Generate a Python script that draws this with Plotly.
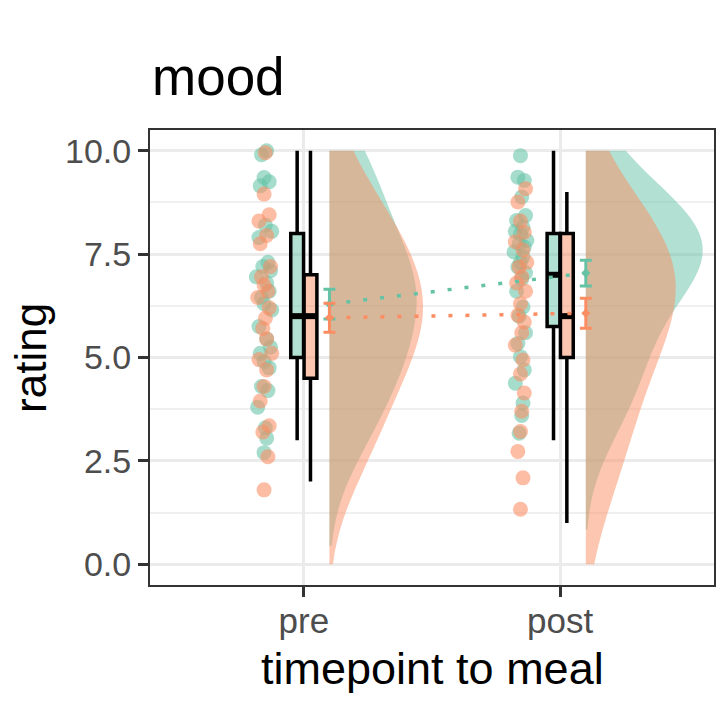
import numpy as np
import plotly.graph_objects as go

# ---------------- data ----------------
timepoints = ["pre", "post"]
tick_vals_y = [0, 2.5, 5, 7.5, 10]
tick_text_y = ["0.0", "2.5", "5.0", "7.5", "10.0"]

pre_teal = [10.0, 9.9, 9.35, 9.25, 9.15, 8.2, 8.05, 7.9, 7.3, 7.2, 7.1, 6.95, 6.8, 6.6,
            6.45, 6.3, 6.15, 5.75, 5.45, 5.25, 5.1, 4.9, 4.75, 4.3, 4.2, 3.8, 3.3, 3.05, 2.7]
pre_teal_jit = [0.01, -0.01, 0.0, 0.02, -0.015, 0.005, 0.03, -0.02, 0.015, -0.005, 0.025,
                -0.03, 0.01, 0.02, -0.01, 0.0, 0.03, -0.02, 0.01, 0.025, -0.015, 0.0, 0.02,
                -0.01, 0.015, -0.025, 0.005, 0.01, 0.0]
pre_salmon = [9.95, 8.95, 8.45, 8.3, 7.95, 7.75, 7.2, 6.95, 6.75, 6.6, 6.45, 6.2, 5.95,
              5.7, 5.45, 5.1, 4.95, 4.7, 4.3, 3.95, 3.35, 3.2, 2.6, 1.8]
pre_salmon_jit = [0.005, 0.0, 0.02, -0.02, 0.01, -0.015, 0.025, -0.01, 0.0, 0.015,
                  -0.025, 0.02, 0.005, -0.005, 0.01, 0.03, -0.02, 0.01, 0.0, -0.015, 0.02,
                  -0.005, 0.015, 0.0]
post_teal = [9.88, 9.36, 9.28, 8.88, 8.43, 8.31, 8.15, 8.05, 7.99, 7.83, 7.75, 7.67, 7.55,
             7.43, 7.3, 7.19, 7.05, 6.9, 6.6, 6.22, 6.0, 5.6, 5.34, 5.02, 4.7, 4.38,
             3.90, 3.6, 3.17]
post_teal_jit = [0.0, -0.01, 0.015, 0.005, 0.02, -0.015, 0.01, -0.02, 0.0, 0.025, -0.005,
                 0.015, -0.025, 0.01, 0.0, -0.01, 0.02, 0.005, -0.015, 0.01, -0.005, 0.02,
                 -0.01, 0.0, 0.015, -0.02, 0.01, 0.005, -0.005]
post_salmon = [9.08, 8.76, 8.3, 8.03, 7.8, 7.6, 7.3, 7.19, 6.95, 6.8, 6.6, 6.3, 6.02, 5.86,
               5.6, 5.30, 4.94, 4.6, 4.14, 3.7, 3.21, 2.73, 2.09, 1.33]
post_salmon_jit = [0.02, -0.01, 0.0, 0.015, -0.02, 0.01, 0.025, -0.005, 0.005, -0.015, 0.02,
                   0.0, -0.01, 0.015, 0.005, -0.02, 0.01, 0.0, 0.015, 0.005, 0.0, -0.01,
                   0.01, 0.0]

# boxplot statistics [pre, post]
teal_q1 = [5.0, 5.75]
teal_med = [6.0, 7.0]
teal_q3 = [8.0, 8.0]
teal_lo = [3.0, 3.0]
teal_hi = [10.0, 10.0]
salmon_q1 = [4.5, 5.0]
salmon_med = [6.0, 6.0]
salmon_q3 = [7.0, 8.0]
salmon_lo = [2.0, 1.0]
salmon_hi = [10.0, 9.0]

# mean and standard error [pre, post]
teal_mean = [6.29, 7.04]
teal_se = [0.36, 0.31]
salmon_mean = [5.96, 6.07]
salmon_se = [0.35, 0.36]

# density settings (bandwidth, lower end of drawn density) [pre, post]
teal_bw = [1.2, 1.15]
salmon_bw = [1.15, 1.4]
teal_span_lo = [0.45, 0.84]
salmon_span_lo = [0.0, 0.0]

# ---------------- style ----------------
TEAL = "#66c2a5"
SALMON = "#fc8d62"
TEAL_A = "rgba(102,194,165,0.5)"
SALMON_A = "rgba(252,141,98,0.5)"
FONT = "Liberation Sans, Arial, Helvetica, sans-serif"
pos = [1, 2]
PT_OFF = -0.155
BOX_OFF = 0.026
BOX_W = 0.05
VIO_OFF = 0.1
# full widths of each half-density (its max reaches width/2)
TEAL_VW = [0.68, 0.91]
SALMON_VW = [0.73, 0.70]
EB_OFF = 0.1

fig = go.Figure()

vio_sets = [
    (pre_teal, teal_bw[0], teal_span_lo[0], 0, TEAL_A, TEAL_VW[0]),
    (post_teal, teal_bw[1], teal_span_lo[1], 1, TEAL_A, TEAL_VW[1]),
    (pre_salmon, salmon_bw[0], salmon_span_lo[0], 0, SALMON_A, SALMON_VW[0]),
    (post_salmon, salmon_bw[1], salmon_span_lo[1], 1, SALMON_A, SALMON_VW[1]),
]
for v, bw, lo, i, col, w in vio_sets:
    fig.add_trace(go.Violin(
        y=v, x0=pos[i] + VIO_OFF, side="positive", width=w,
        bandwidth=bw, spanmode="manual", span=[lo, 10.0], points=False,
        box_visible=False, meanline_visible=False, fillcolor=col,
        line=dict(width=0, color="rgba(0,0,0,0)"), scalemode="width",
        hoverinfo="skip", showlegend=False, orientation="v"))

# jittered points
for vals, jit, i, col in [(pre_teal, pre_teal_jit, 0, TEAL), (pre_salmon, pre_salmon_jit, 0, SALMON),
                          (post_teal, post_teal_jit, 1, TEAL), (post_salmon, post_salmon_jit, 1, SALMON)]:
    fig.add_trace(go.Scatter(
        x=[pos[i] + PT_OFF + j for j in jit], y=vals, mode="markers",
        marker=dict(size=15, color=col, opacity=0.58, line=dict(width=0)),
        hoverinfo="skip", showlegend=False))

# boxplots
for q1, med, q3, lo, hi, off, col in [
        (teal_q1, teal_med, teal_q3, teal_lo, teal_hi, -BOX_OFF, TEAL_A),
        (salmon_q1, salmon_med, salmon_q3, salmon_lo, salmon_hi, BOX_OFF, SALMON_A)]:
    fig.add_trace(go.Box(
        x=[p + off for p in pos], q1=q1, median=med, q3=q3, lowerfence=lo, upperfence=hi,
        width=BOX_W, fillcolor=col, line=dict(color="black", width=3.5), whiskerwidth=0,
        boxpoints=False, hoverinfo="skip", showlegend=False))
    mx, my = [], []
    for p, m in zip(pos, med):
        mx += [p + off - BOX_W / 2, p + off + BOX_W / 2, None]
        my += [m, m, None]
    fig.add_trace(go.Scatter(x=mx, y=my, mode="lines", line=dict(color="black", width=6),
                             hoverinfo="skip", showlegend=False))

# dotted lines between means + error bars
for mean, se, col in [(teal_mean, teal_se, TEAL), (salmon_mean, salmon_se, SALMON)]:
    xs = [p + EB_OFF for p in pos]
    fig.add_trace(go.Scatter(x=xs, y=mean, mode="lines",
                             line=dict(color=col, width=3.5, dash="4px,13px"),
                             hoverinfo="skip", showlegend=False))
    fig.add_trace(go.Scatter(x=xs, y=mean, mode="markers",
                             marker=dict(size=7, color=col, symbol="diamond"),
                             error_y=dict(type="data", array=se, visible=True, color=col,
                                          thickness=3, width=6),
                             hoverinfo="skip", showlegend=False))

# ---------------- layout ----------------
PL, PT, PW, PH = 150, 130, 566, 455
W, H = 719, 707
fig.update_layout(
    width=W, height=H, autosize=False,
    margin=dict(l=PL, r=W - PL - PW, t=PT, b=H - PT - PH, pad=0),
    paper_bgcolor="white", plot_bgcolor="white",
    font=dict(family=FONT, color="#4d4d4d"),
    showlegend=False, boxmode="overlay", violinmode="overlay",
    xaxis=dict(type="linear", range=[0.4, 2.6], tickvals=pos, ticktext=timepoints,
               ticks="outside", ticklen=10, tickwidth=2.5, tickcolor="#333333",
               tickfont=dict(size=35, color="#4d4d4d", family=FONT), ticklabelstandoff=-6,
               showgrid=True, gridcolor="#ebebeb", gridwidth=3, zeroline=False,
               showline=True, linecolor="#333333", linewidth=2, mirror=True),
    yaxis=dict(type="linear", range=[-0.5, 10.5], tickvals=tick_vals_y, ticktext=tick_text_y,
               ticks="outside", ticklen=10, tickwidth=2.5, tickcolor="#333333",
               tickfont=dict(size=34, color="#4d4d4d", family=FONT),
               showgrid=True, gridcolor="#ebebeb", gridwidth=3, zeroline=False,
               showline=True, linecolor="#333333", linewidth=2, mirror=True,
               minor=dict(tickvals=[1.25, 3.75, 6.25, 8.75], showgrid=True,
                          gridcolor="#f0f0f0", gridwidth=1.5, ticks="")),
)

fig.add_annotation(text="mood", xref="paper", yref="paper", x=0, y=1 + (PT - 108) / PH,
                   xanchor="left", yanchor="bottom", showarrow=False,
                   font=dict(size=53, color="black", family=FONT))
fig.add_annotation(text="rating", xref="paper", yref="paper", x=-(PL - 30) / PW, y=0.5,
                   xanchor="center", yanchor="middle", textangle=-90, showarrow=False,
                   borderpad=0, font=dict(size=44, color="black", family=FONT))
fig.add_annotation(text="timepoint to meal", xref="paper", yref="paper", x=0.5,
                   y=-(668 - PT - PH) / PH, xanchor="center", yanchor="middle", showarrow=False,
                   font=dict(size=45, color="black", family=FONT))

# remove the default 8px page margin so the figure fills the window exactly
fig.write_html("out.html", config={"displayModeBar": False},
               post_script="document.body.style.margin='0px';")
